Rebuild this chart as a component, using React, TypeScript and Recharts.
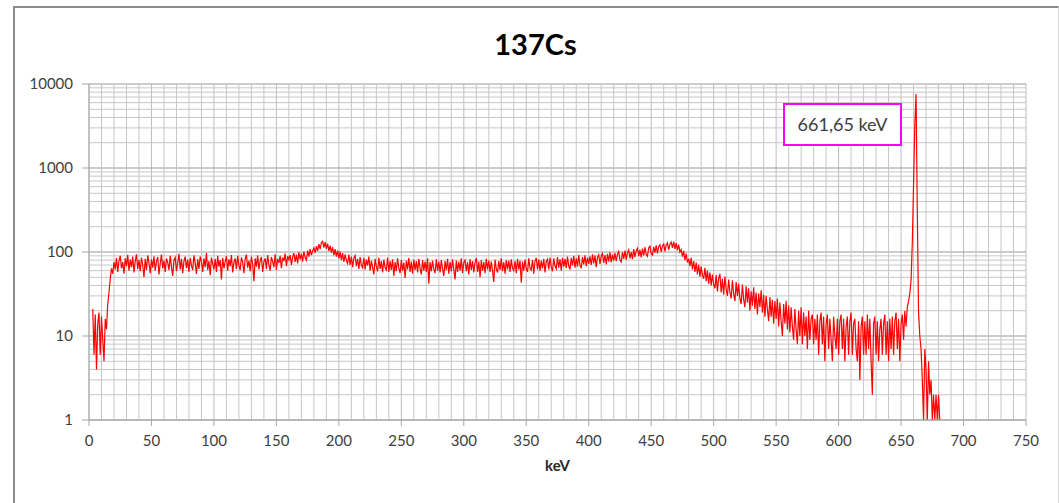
import React from 'react';
import {
  LineChart,
  Line,
  XAxis,
  YAxis,
  CartesianGrid,
  ReferenceLine,
} from 'recharts';

// 137Cs gamma spectrum, 1 keV bins, counts per bin
const lowStart = 3;
const lowCounts = [21, 6, 18, 4, 14, 19, 6, 17, 9, 5, 16, 12, 24, 33, 48, 64, 55, 76];

const plateauStart = 21;
const plateauCounts = [
  62, 85, 58, 79, 90, 64, 76, 55, 84, 68, 92, 60, 81, 66, 88, 57, 78, 94, 63, 80,
  59, 86, 70, 50, 83, 61, 91, 74, 56, 82, 65, 89, 60, 77, 87, 54, 73, 93, 64, 79,
  58, 84, 75, 61, 90, 67, 52, 80, 86, 59, 74, 95, 62, 83, 56, 78, 88, 64, 81, 58,
  85, 69, 61, 91, 74, 55, 82, 63, 88, 77, 58, 84, 66, 97, 61, 78, 53, 86, 73, 62,
  83, 58, 90, 67, 80, 47, 85, 64, 77, 89, 60, 82, 68, 92, 57, 75, 84, 63, 90, 69,
  61, 86, 76, 56, 83, 93, 65, 79, 59, 88, 72, 45, 84, 67, 91, 62, 80, 87, 58, 77,
  84, 63, 92, 70, 60, 87, 77, 66, 94, 61, 83, 74, 90, 64, 86, 78, 96, 68, 89, 81,
];

const backscatterStart = 161;
const backscatterCounts = [
  92, 70, 87, 97, 76, 93, 73, 99, 82, 95, 77, 101, 86, 80, 104, 88, 108, 92, 103, 112,
  98, 117, 103, 124, 108, 129, 134, 113, 131, 109, 126, 103, 119, 98, 114, 92, 108, 88, 104, 84,
  101, 80, 97, 76, 94, 79, 73, 93, 70, 88, 66, 85, 91, 68, 83, 63, 87, 70, 65, 85,
  62, 81, 69, 88, 60, 79, 66, 54, 83, 67, 59, 85, 63, 78, 57, 81, 65, 61, 86, 58,
];

const midStart = 241;
const midCounts = [
  78, 61, 82, 52, 76, 59, 84, 64, 56, 80, 60, 75, 49, 79, 62, 85, 58, 77, 55, 81,
  61, 78, 57, 83, 64, 54, 80, 60, 77, 58, 84, 42, 76, 59, 79, 62, 56, 82, 60, 77,
  57, 80, 63, 52, 78, 61, 83, 55, 76, 59, 81, 62, 47, 79, 58, 77, 60, 84, 56, 75,
  80, 59, 76, 54, 82, 61, 78, 57, 75, 85, 58, 77, 50, 80, 60, 76, 56, 83, 62, 79,
  58, 77, 60, 44, 81, 63, 57, 78, 61, 84, 59, 76, 55, 80, 62, 79, 58, 82, 64, 60,
  78, 56, 83, 62, 79, 43, 77, 60, 81, 63, 58, 84, 64, 61, 80, 55, 78, 85, 62, 81,
  60, 79, 64, 83, 57, 77, 82, 62, 86, 66, 59, 84, 68, 63, 87, 65, 82, 60, 85, 67,
  83, 64, 88, 68, 62, 85, 69, 90, 65, 84, 67, 92, 70, 64, 87, 71, 91, 68, 86, 72,
];

const edgeStart = 401;
const edgeCounts = [
  89, 70, 94, 73, 91, 66, 87, 93, 72, 90, 96, 74, 92, 71, 95, 77, 99, 75, 93, 79,
  97, 78, 94, 101, 80, 76, 99, 83, 104, 81, 98, 106, 84, 100, 82, 108, 87, 103, 111, 89,
  106, 86, 110, 91, 114, 94, 89, 112, 117, 95, 92, 115, 98, 120, 96, 116, 122, 100, 118, 125,
  102, 121, 128, 106, 124, 131, 112, 133, 109, 128, 105, 122, 100, 107, 88, 103, 80, 96, 75, 83,
  68, 85, 62, 78, 58, 75, 54, 71, 51, 67, 53, 48, 65, 45, 60, 42, 57, 40, 54, 41,
  37, 53, 34, 49, 55, 33, 48, 31, 51, 36, 30, 47, 33, 28, 46, 32, 26, 44, 30, 42,
];

const valleyStart = 521;
const valleyCounts = [
  28, 24, 41, 27, 22, 39, 25, 37, 20, 34, 23, 38, 21, 33, 18, 32, 22, 35, 19, 31,
  17, 30, 21, 15, 29, 17, 27, 14, 26, 16, 28, 13, 25, 15, 10, 24, 14, 26, 12, 23,
  11, 22, 13, 9, 21, 12, 8, 20, 10, 22, 8, 19, 10, 17, 7, 20, 9, 16, 18, 8,
  16, 9, 18, 6, 15, 19, 8, 17, 5, 14, 18, 7, 16, 9, 5, 17, 10, 7, 16, 6,
  15, 18, 7, 16, 5, 13, 17, 6, 15, 19, 6, 14, 16, 7, 5, 15, 3, 13, 17, 6,
  15, 6, 18, 7, 16, 5, 2, 14, 17, 6, 15, 5, 12, 16, 6, 14, 18, 6, 15, 5,
];

const peakStart = 641;
const peakCounts = [
  16, 7, 17, 6, 15, 19, 7, 16, 5, 14, 18, 9, 20, 13, 22, 26, 32,
  46, 130, 650, 3200, 7600, 300, 19, 10,
  7, 3, 1, 7, 4, 1, 5, 2, 3, 1, 2, 1, 2, 1, 2, 1,
];

const segments: [number, number[]][] = [
  [lowStart, lowCounts],
  [plateauStart, plateauCounts],
  [backscatterStart, backscatterCounts],
  [midStart, midCounts],
  [edgeStart, edgeCounts],
  [valleyStart, valleyCounts],
  [peakStart, peakCounts],
];

const xTicks = [0, 50, 100, 150, 200, 250, 300, 350, 400, 450, 500, 550, 600, 650, 700, 750];
const yTicks = [1, 10, 100, 1000, 10000];
const title = '137Cs';
const xLabel = 'keV';
const peakLabel = '661,65 keV';

// minor grid: every 10 keV, and 2..9 inside each decade
const minorXTicks = Array.from({ length: 76 }, (_, i) => i * 10).filter((v) => v % 50 !== 0);
const minorYTicks: number[] = [];
for (let d = 1; d < 10000; d *= 10) {
  for (let m = 2; m < 10; m++) minorYTicks.push(m * d);
}

const data = segments.flatMap(([start, counts]) =>
  counts.map((c, i) => ({ keV: start + i, counts: c }))
);

const font = 'Lato, "Open Sans", sans-serif';
const tickStyle = { fill: '#404040', fontSize: 15, fontFamily: font };
const minorStroke = '#c6c6c6';

export default function App() {
  return (
    <div
      style={{
        position: 'absolute',
        left: 0,
        top: 0,
        width: 1059,
        height: 503,
        background: '#fff',
        overflow: 'hidden',
        fontFamily: font,
      }}
    >
      {/* chart area frame */}
      <div
        style={{
          position: 'absolute',
          left: 13,
          top: 6,
          width: 1043,
          height: 520,
          borderLeft: '2px solid #8c8c8c',
          borderTop: '2px solid #8c8c8c',
          borderRight: '1px solid #d9d9d9',
        }}
      />
      <div
        style={{
          position: 'absolute',
          left: 14,
          width: 1043,
          top: 26,
          textAlign: 'center',
          fontSize: 29,
          fontWeight: 'bold',
          color: '#000',
          lineHeight: '36px',
        }}
      >
        {title}
      </div>
      <div style={{ position: 'absolute', left: 0, top: 0 }}>
        <LineChart
          width={1059}
          height={503}
          data={data}
          margin={{ top: 84, right: 33, bottom: 43, left: 19 }}
        >
          <CartesianGrid horizontal={false} stroke="#bdbdbd" strokeWidth={1} />
          {minorXTicks.map((v) => (
            <ReferenceLine key={'x' + v} x={v} stroke={minorStroke} strokeWidth={1} />
          ))}
          {minorYTicks.map((v) => (
            <ReferenceLine key={'y' + v} y={v} stroke={minorStroke} strokeWidth={1} />
          ))}
          <CartesianGrid vertical={false} stroke="#999999" strokeWidth={1} />
          <XAxis
            type="number"
            dataKey="keV"
            domain={[0, 750]}
            ticks={xTicks}
            interval={0}
            height={40}
            tickSize={6}
            tickMargin={9}
            stroke="#a6a6a6"
            tick={tickStyle}
            label={{
              value: xLabel,
              position: 'bottom',
              offset: 0,
              fill: '#262626',
              fontSize: 15,
              fontWeight: 'bold',
              fontFamily: font,
            }}
          />
          <YAxis
            type="number"
            scale="log"
            domain={[1, 10000]}
            ticks={yTicks}
            interval={0}
            allowDataOverflow
            width={70}
            tickSize={7}
            tickMargin={9}
            stroke="#a6a6a6"
            tick={tickStyle}
          />
          <Line
            type="linear"
            dataKey="counts"
            stroke="#ff0000"
            strokeWidth={1.2}
            dot={false}
            isAnimationActive={false}
          />
        </LineChart>
      </div>
      <div
        style={{
          position: 'absolute',
          left: 783,
          top: 103,
          width: 115,
          height: 39,
          border: '2px solid #ff00ff',
          background: '#fff',
          fontSize: 18,
          color: '#404040',
          textAlign: 'center',
          lineHeight: '39px',
        }}
      >
        {peakLabel}
      </div>
    </div>
  );
}
